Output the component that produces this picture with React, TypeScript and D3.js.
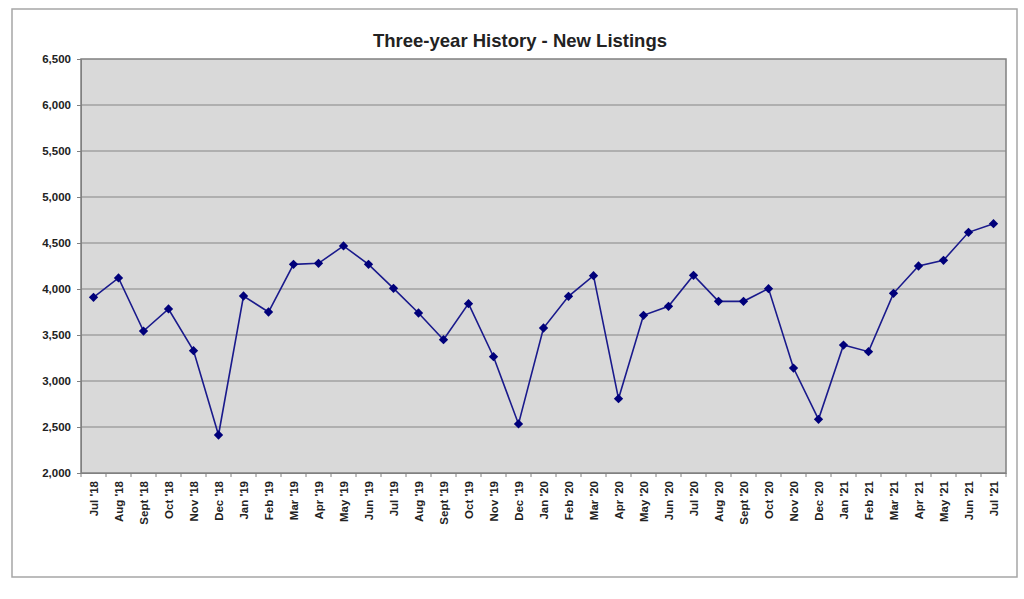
import { useEffect, useMemo, useRef } from "react";
import * as d3 from "d3";

const WIDTH = 1024;
const HEIGHT = 599;
const MARGIN = { top: 59, right: 18, bottom: 126, left: 81 };

const months = [
  "Jul '18", "Aug '18", "Sept '18", "Oct '18", "Nov '18", "Dec '18",
  "Jan '19", "Feb '19", "Mar '19", "Apr '19", "May '19", "Jun '19",
  "Jul '19", "Aug '19", "Sept '19", "Oct '19", "Nov '19", "Dec '19",
  "Jan '20", "Feb '20", "Mar '20", "Apr '20", "May '20", "Jun '20",
  "Jul '20", "Aug '20", "Sept '20", "Oct '20", "Nov '20", "Dec '20",
  "Jan '21", "Feb '21", "Mar '21", "Apr '21", "May '21", "Jun '21",
  "Jul '21",
];

const newListings = [
  3910, 4120, 3543, 3783, 3330, 2413,
  3924, 3750, 4268, 4279, 4468, 4268,
  4007, 3739, 3449, 3841, 3264, 2533,
  3576, 3920, 4145, 2808, 3714, 3812,
  4149, 3866, 3866, 4004, 3141, 2583,
  3391, 3319, 3953, 4250, 4312, 4616,
  4710,
];

const yTicks = [2000, 2500, 3000, 3500, 4000, 4500, 5000, 5500, 6000, 6500];

const FONT = "'Liberation Sans', Arial, sans-serif";

export default function App() {
  const axesRef = useRef<SVGGElement>(null);
  const boundsWidth = WIDTH - MARGIN.left - MARGIN.right;
  const boundsHeight = HEIGHT - MARGIN.top - MARGIN.bottom;

  const xScale = useMemo(
    () => d3.scaleBand().domain(months).range([0, boundsWidth]),
    [boundsWidth]
  );
  const yScale = useMemo(
    () => d3.scaleLinear().domain([2000, 6500]).range([boundsHeight, 0]),
    [boundsHeight]
  );

  useEffect(() => {
    const g = d3.select(axesRef.current);
    g.selectAll("*").remove();

    // y axis, grey ticks outside
    const yAxis = g
      .append("g")
      .call(
        d3
          .axisLeft(yScale)
          .tickValues(yTicks)
          .tickSize(4)
          .tickPadding(6)
          .tickFormat((d) => d3.format(",")(d as number))
      );
    yAxis.select(".domain").attr("stroke", "#808080");
    yAxis.selectAll(".tick line").attr("stroke", "#808080");
    yAxis
      .selectAll(".tick text")
      .attr("font-family", FONT)
      .attr("font-size", 11.5)
      .attr("font-weight", "bold")
      .attr("fill", "#222");

    // x axis: labels rotated, ticks on band edges
    const xAxis = g
      .append("g")
      .attr("transform", `translate(0,${boundsHeight})`)
      .call(d3.axisBottom(xScale).tickSize(0).tickPadding(8));
    xAxis.select(".domain").attr("stroke", "#808080");
    xAxis
      .selectAll(".tick text")
      .attr("font-family", FONT)
      .attr("font-size", 11.5)
      .attr("font-weight", "bold")
      .attr("fill", "#222")
      .attr("text-anchor", "end")
      .attr("dy", "0.35em")
      .attr("transform", "translate(0,4) rotate(-90)")
      .attr("x", -4)
      .attr("y", 0);

    const step = xScale.step();
    xAxis
      .selectAll(".bound")
      .data(d3.range(months.length + 1))
      .join("line")
      .attr("class", "bound")
      .attr("x1", (i) => i * step)
      .attr("x2", (i) => i * step)
      .attr("y1", 0)
      .attr("y2", 4)
      .attr("stroke", "#808080");
  }, [xScale, yScale, boundsHeight]);

  const cx = (i: number) => (xScale(months[i]) ?? 0) + xScale.bandwidth() / 2;

  const lineGen = d3
    .line<number>()
    .x((_, i) => cx(i))
    .y((d) => yScale(d));

  const diamond = d3.symbol().type(d3.symbolDiamond2).size(55)();

  return (
    <svg
      width={WIDTH}
      height={HEIGHT}
      style={{ position: "absolute", left: 0, top: 0, background: "#fff" }}
    >
      <rect x={12} y={9} width={1005} height={568} fill="#fff" stroke="#a6a6a6" strokeWidth={1.5} />
      <text
        x={520}
        y={47}
        textAnchor="middle"
        fontFamily={FONT}
        fontWeight="bold"
        fontSize={18.5}
        fill="#222"
      >
        Three-year History - New Listings
      </text>
      <g transform={`translate(${MARGIN.left},${MARGIN.top})`}>
        <rect
          width={boundsWidth}
          height={boundsHeight}
          fill="#d9d9d9"
          stroke="#808080"
          strokeWidth={1.5}
        />
        {yTicks.slice(1, -1).map((t) => (
          <line
            key={t}
            x1={0}
            x2={boundsWidth}
            y1={yScale(t)}
            y2={yScale(t)}
            stroke="#868686"
            strokeWidth={1.2}
          />
        ))}
        <path d={lineGen(newListings) ?? ""} fill="none" stroke="#1a1a8c" strokeWidth={1.6} />
        {newListings.map((v, i) => (
          <path
            key={i}
            d={diamond ?? ""}
            transform={`translate(${cx(i)},${yScale(v)})`}
            fill="#00007a"
          />
        ))}
      </g>
      <g ref={axesRef} transform={`translate(${MARGIN.left},${MARGIN.top})`} />
    </svg>
  );
}
